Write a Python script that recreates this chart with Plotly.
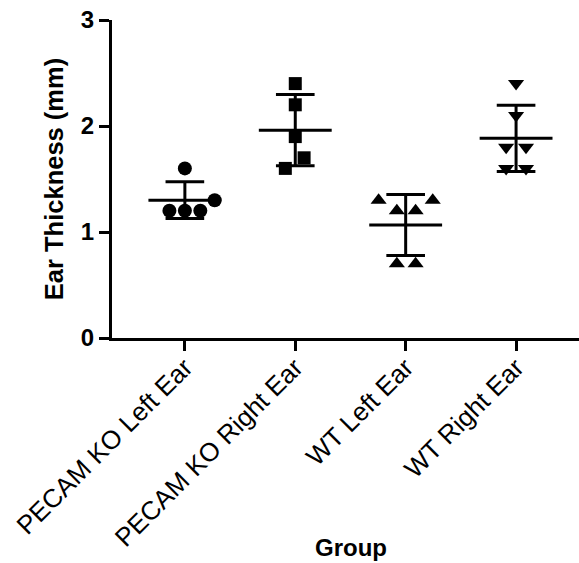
import numpy as np
import plotly.graph_objects as go

groups = ["PECAM KO Left Ear", "PECAM KO Right Ear", "WT Left Ear", "WT Right Ear"]
pecam_left = [1.6, 1.3, 1.2, 1.2, 1.2]
pecam_right = [2.4, 2.2, 1.9, 1.7, 1.6]
wt_left = [1.3, 1.3, 1.2, 1.2, 0.7, 0.7]
wt_right = [2.4, 2.1, 1.8, 1.8, 1.6, 1.6]
series = [pecam_left, pecam_right, wt_left, wt_right]

# horizontal scatter offsets (layout only)
jitter = [
    [0.0, 0.27, -0.14, 0.0, 0.14],
    [0.0, 0.0, 0.0, 0.08, -0.09],
    [-0.245, 0.245, -0.08, 0.09, -0.08, 0.09],
    [0.0, 0.0, -0.09, 0.09, -0.09, 0.09],
]
symbols = ["circle", "square", "triangle-up", "triangle-down"]
sizes = [14, 13, 14, 14]

FONT = "Liberation Sans, Arial, sans-serif"
fig = go.Figure()

# mean +/- SD lines
ex, ey = [], []
mean_hw, cap_hw = 0.33, 0.175
for i, vals in enumerate(series):
    m = float(np.mean(vals))
    s = float(np.std(vals, ddof=1))
    ex += [i - mean_hw, i + mean_hw, None]
    ey += [m, m, None]
    ex += [i, i, None]
    ey += [m - s, m + s, None]
    ex += [i - cap_hw, i + cap_hw, None, i - cap_hw, i + cap_hw, None]
    ey += [m + s, m + s, None, m - s, m - s, None]

fig.add_trace(go.Scatter(x=ex, y=ey, mode="lines",
                         line=dict(color="black", width=3),
                         hoverinfo="skip", showlegend=False))

for i, vals in enumerate(series):
    fig.add_trace(go.Scatter(
        x=[i + o for o in jitter[i]], y=vals, mode="markers",
        marker=dict(symbol=symbols[i], size=sizes[i], color="black",
                    line=dict(width=0)),
        name=groups[i], showlegend=False))

fig.update_layout(
    width=579, height=563,
    margin=dict(l=112, r=0, t=20, b=225, autoexpand=False),
    plot_bgcolor="white", paper_bgcolor="white",
    font=dict(family=FONT, color="black"),
    xaxis=dict(range=[-0.66, 3.57], tickvals=[0, 1, 2, 3], ticktext=groups,
               tickangle=-45, ticks="outside", ticklen=10, tickwidth=3,
               tickcolor="black", showline=True, linewidth=3, linecolor="black",
               showgrid=False, zeroline=False, automargin=False,
               ticklabelstandoff=-9, ticklabeloverflow="allow",
               tickfont=dict(size=26, family=FONT)),
    yaxis=dict(range=[0, 3], tickvals=[0, 1, 2, 3], ticks="outside",
               ticklen=10, tickwidth=3, tickcolor="black",
               showline=True, linewidth=3, linecolor="black",
               showgrid=False, zeroline=False, automargin=False,
               ticklabeloverflow="allow",
               tickfont=dict(size=24, family=FONT, weight="bold"),
               title=dict(text="Ear Thickness (mm)", standoff=10,
                          font=dict(size=25.5, family=FONT, weight="bold"))),
    annotations=[dict(text="Group", xref="paper", yref="paper",
                      x=0.512, y=-0.66, xanchor="center", yanchor="middle",
                      showarrow=False,
                      font=dict(size=24, family=FONT, weight="bold"))],
)

fig.write_html("out.html", config={"displayModeBar": False},
               post_script="document.body.style.margin='0';")
